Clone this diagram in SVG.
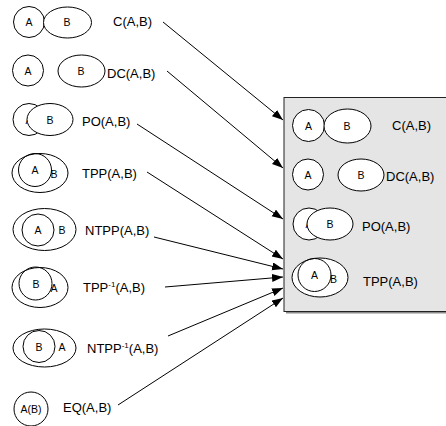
<svg xmlns="http://www.w3.org/2000/svg" width="446" height="426" viewBox="0 0 446 426">
<style>
.s{fill:#fff;stroke:#000;stroke-width:1}
.n{fill:none;stroke:#000;stroke-width:1}
.l{font-family:"Liberation Sans",Arial,sans-serif;font-size:13px;fill:#000}
.i{font-family:"Liberation Sans",Arial,sans-serif;font-size:10.5px;fill:#000;text-anchor:middle}
.sup{font-size:8px}
.c{stroke:#000;stroke-width:1;fill:none;marker-end:url(#ah)}
</style>
<defs>
<marker id="ah" markerUnits="userSpaceOnUse" markerWidth="12" markerHeight="10" refX="11" refY="4" orient="auto">
<path d="M0,0 L11,4 L0,8 Z" fill="#000"/>
</marker>
</defs>
<rect x="0" y="0" width="446" height="426" fill="#fff"/>
<g id="box">
<rect x="286" y="99.5" width="170" height="214" fill="#8a8a8a"/>
<rect x="284" y="97.5" width="170" height="214" fill="#e5e5e5" stroke="#222" stroke-width="1"/>
</g>
<g id="connectors">
<line class="c" x1="163" y1="22" x2="283" y2="120"/>
<line class="c" x1="167" y1="71" x2="283" y2="168"/>
<line class="c" x1="137" y1="124" x2="283" y2="219"/>
<line class="c" x1="147" y1="172" x2="283" y2="259"/>
<line class="c" x1="154" y1="237" x2="283" y2="269"/>
<line class="c" x1="165" y1="287" x2="283" y2="277"/>
<line class="c" x1="168" y1="336" x2="283" y2="288"/>
<line class="c" x1="118" y1="405" x2="283" y2="298"/>
</g>
<g id="c-left">
<circle class="s" cx="29" cy="22" r="15.5"/>
<ellipse class="s" cx="67.5" cy="22.5" rx="24" ry="15.5"/>
<text class="i" x="29" y="26">A</text>
<text class="i" x="67" y="26">B</text>
<text class="l" x="113" y="26">C(A,B)</text>
</g>
<g id="dc-left">
<circle class="s" cx="28" cy="70.5" r="15.5"/>
<ellipse class="s" cx="81.5" cy="71" rx="23.5" ry="16"/>
<text class="i" x="28" y="74.5">A</text>
<text class="i" x="81" y="75">B</text>
<text class="l" x="107" y="78">DC(A,B)</text>
</g>
<g id="po-left">
<circle class="s" cx="29" cy="119.5" r="16"/>
<text class="i" x="29" y="123.5">A</text>
<ellipse class="s" cx="50" cy="119.5" rx="23" ry="16"/>
<text class="i" x="50" y="123.5">B</text>
<text class="l" x="82" y="126">PO(A,B)</text>
</g>
<g id="tpp-left">
<ellipse class="s" cx="40" cy="173" rx="28" ry="19.5"/>
<circle class="n" cx="35" cy="170" r="16.5"/>
<text class="i" x="35" y="174">A</text>
<text class="i" x="54" y="178">B</text>
<text class="l" x="82" y="178">TPP(A,B)</text>
</g>
<g id="ntpp-left">
<ellipse class="s" cx="44.5" cy="229.5" rx="31.5" ry="21"/>
<circle class="n" cx="38" cy="230" r="16"/>
<text class="i" x="38" y="234">A</text>
<text class="i" x="62" y="234">B</text>
<text class="l" x="85" y="235">NTPP(A,B)</text>
</g>
<g id="tppi-left">
<ellipse class="s" cx="40" cy="287.5" rx="28" ry="20"/>
<circle class="n" cx="35.5" cy="283.5" r="16.5"/>
<text class="i" x="36" y="288">B</text>
<text class="i" x="54" y="292">A</text>
<text class="l" x="83" y="292">TPP<tspan class="sup" dy="-5">-1</tspan><tspan dy="5">(A,B)</tspan></text>
</g>
<g id="ntppi-left">
<ellipse class="s" cx="44.5" cy="348" rx="31.5" ry="19"/>
<circle class="n" cx="39" cy="346.5" r="16"/>
<text class="i" x="39" y="350.5">B</text>
<text class="i" x="62" y="350.5">A</text>
<text class="l" x="87" y="353">NTPP<tspan class="sup" dy="-5">-1</tspan><tspan dy="5">(A,B)</tspan></text>
</g>
<g id="eq-left">
<circle class="s" cx="31" cy="409" r="17"/>
<text class="i" x="31" y="413">A(B)</text>
<text class="l" x="63" y="412">EQ(A,B)</text>
</g>
<g id="c-right">
<circle class="s" cx="308.5" cy="125.5" r="16"/>
<ellipse class="s" cx="347.5" cy="126" rx="23.5" ry="17"/>
<text class="i" x="308.5" y="129.5">A</text>
<text class="i" x="347" y="130">B</text>
<text class="l" x="392" y="130">C(A,B)</text>
</g>
<g id="dc-right">
<circle class="s" cx="308" cy="174.5" r="15.5"/>
<ellipse class="s" cx="361" cy="175" rx="23" ry="16"/>
<text class="i" x="308" y="178.5">A</text>
<text class="i" x="361" y="179">B</text>
<text class="l" x="386" y="181">DC(A,B)</text>
</g>
<g id="po-right">
<circle class="s" cx="309" cy="224" r="16"/>
<text class="i" x="309" y="228">A</text>
<ellipse class="s" cx="330" cy="224" rx="23" ry="16"/>
<text class="i" x="330" y="228">B</text>
<text class="l" x="362" y="231">PO(A,B)</text>
</g>
<g id="tpp-right">
<ellipse class="s" cx="320" cy="277.5" rx="28" ry="19.5"/>
<circle class="n" cx="314.5" cy="275" r="16.5"/>
<text class="i" x="314.5" y="279">A</text>
<text class="i" x="333.5" y="283">B</text>
<text class="l" x="363" y="286">TPP(A,B)</text>
</g>
</svg>
